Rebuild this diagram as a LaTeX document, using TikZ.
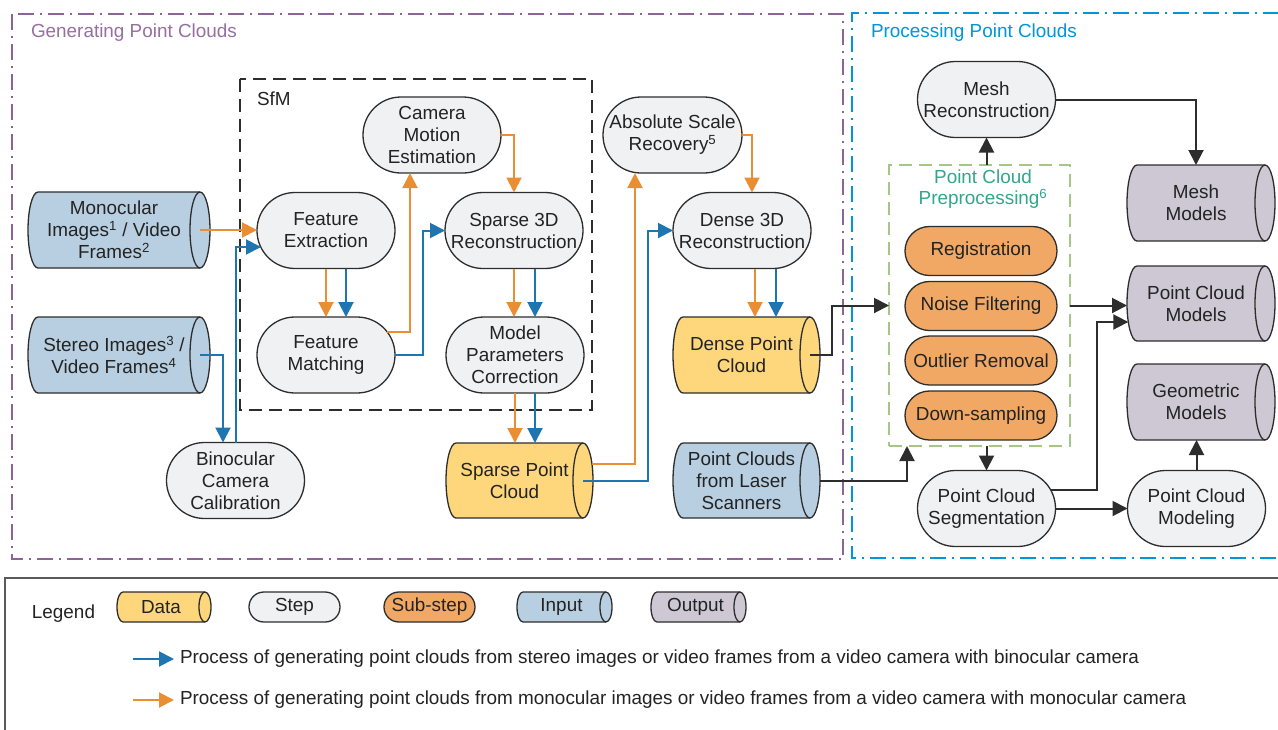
\documentclass[tikz,border=0pt]{standalone}
\usepackage{fontspec}
\setmainfont{Liberation Sans}
\usetikzlibrary{arrows.meta,calc,backgrounds}

\definecolor{bd}{RGB}{45,45,45}
\definecolor{txt}{RGB}{35,35,35}
\definecolor{stepfill}{RGB}{240,241,243}
\definecolor{subfill}{RGB}{240,168,100}
\definecolor{datafill}{RGB}{254,215,125}
\definecolor{infill}{RGB}{184,207,225}
\definecolor{outfill}{RGB}{205,200,212}
\definecolor{orng}{RGB}{234,142,52}
\definecolor{blu}{RGB}{31,117,176}
\definecolor{purp}{RGB}{140,100,150}
\definecolor{purptxt}{RGB}{150,110,160}
\definecolor{cyanb}{RGB}{0,150,215}
\definecolor{grn}{RGB}{165,198,135}
\definecolor{tealtxt}{RGB}{50,165,140}
\definecolor{lgd}{RGB}{90,90,90}

\newcommand\mainfs{\fontsize{18.9}{22}\selectfont}

% horizontal cylinder drawn round a text node: #1 node, #2 fill, #3 end radius, #4 half height
\newcommand\cylbody[4]{%
  \path[fill=#2, draw=bd, line width=1.3pt]
    ([xshift=#3]#1.north west) -- (#1.north east)
    arc[start angle=90, end angle=-90, x radius=#3, y radius=#4]
    -- ([xshift=#3]#1.south west)
    arc[start angle=270, end angle=90, x radius=#3, y radius=#4] -- cycle;
  \draw[bd, line width=1.3pt]
    (#1.north east) arc[start angle=90, end angle=270, x radius=#3, y radius=#4];
}

\begin{document}
\begin{tikzpicture}[x=1pt, y=-1pt, font=\mainfs, text=txt,
  every node/.style={inner sep=0pt, outer sep=0pt},
  stepnode/.style={rectangle, rounded corners=37.9pt, draw=bd, line width=1.3pt,
    fill=stepfill, minimum width=138pt, minimum height=76pt, align=center},
  subnode/.style={rectangle, rounded corners=24.4pt, draw=bd, line width=1.3pt,
    fill=subfill, minimum width=152pt, minimum height=49pt, align=center},
  cylnode/.style={rectangle, minimum height=76pt, align=center},
  oarr/.style={draw=orng, line width=2pt, -{Triangle[length=15pt,width=15pt]}},
  barr/.style={draw=blu, line width=2pt, -{Triangle[length=15pt,width=15pt]}},
  karr/.style={draw=bd, line width=2pt, -{Triangle[length=15pt,width=15pt]}},
  purpframe/.style={draw=purp, line width=2pt, dash pattern=on 16pt off 6pt on 2pt off 6pt},
  cyanframe/.style={draw=cyanb, line width=2pt, dash pattern=on 16pt off 6pt on 2pt off 6pt},
  sfmframe/.style={draw=bd, line width=2pt, dash pattern=on 13pt off 7pt},
  preframe/.style={draw=grn, line width=1.8pt, dash pattern=on 13pt off 7pt}]

\useasboundingbox (0,0) rectangle (1278,729);

% ---------- section titles ----------
\node[anchor=west, text=purptxt] (gentitle) at (31,33) {Generating Point Clouds};
\node[anchor=west, text=cyanb] (proctitle) at (871,33) {Processing Point Clouds};
\node[anchor=west] (sfmtitle) at (257,99) {SfM};

% ---------- generating point clouds ----------
\node[cylnode, minimum width=172pt] (mono) at (114,230)
  {Monocular\\Images\textsuperscript{1} / Video\\Frames\textsuperscript{2}};
\node[cylnode, minimum width=172pt] (stereo) at (114,355)
  {Stereo Images\textsuperscript{3} /\\Video Frames\textsuperscript{4}};
\node[stepnode] (bino) at (235.5,480.5) {Binocular\\Camera\\Calibration};

\node[stepnode] (fe)  at (326,230.5) {Feature\\Extraction};
\node[stepnode] (fm)  at (326,355)   {Feature\\Matching};
\node[stepnode] (cme) at (432,135)   {Camera\\Motion\\Estimation};
\node[stepnode] (s3d) at (514,230.5) {Sparse 3D\\Reconstruction};
\node[stepnode] (mpc) at (515,355)   {Model\\Parameters\\Correction};

\node[cylnode, minimum width=137pt, minimum height=75pt] (spc) at (514.5,480.5) {Sparse Point\\Cloud};
\node[stepnode, minimum width=139pt] (asr) at (672.5,135) {Absolute Scale\\Recovery\textsuperscript{5}};
\node[stepnode] (d3d) at (742,230.5) {Dense 3D\\Reconstruction};
\node[cylnode, minimum width=137pt] (dpc) at (741.5,355) {Dense Point\\Cloud};
\node[cylnode, minimum width=137pt, minimum height=75pt] (las) at (741.5,480.5) {Point Clouds\\from Laser\\Scanners};

% ---------- processing point clouds ----------
\node[stepnode] (mr) at (986.5,99.5) {Mesh\\Reconstruction};
\node[preframe, rectangle, minimum width=181pt, minimum height=281pt] (pre) at (979.5,305.5) {};
\node[text=tealtxt, align=center, font=\fontsize{18.9}{21}\selectfont] (pretitle) at (983,189)
  {Point Cloud\\Preprocessing\textsuperscript{6}};
\node[subnode] (reg)  at (981,251)   {Registration};
\node[subnode] (nf)   at (981,306)   {Noise Filtering};
\node[subnode] (outl) at (981,360.5) {Outlier Removal};
\node[subnode] (ds)   at (981,415.5) {Down-sampling};
\node[stepnode] (seg) at (986.5,508.5) {Point Cloud\\Segmentation};
\node[stepnode] (mod) at (1196.5,508.5) {Point Cloud\\Modeling};

\node[cylnode, minimum width=138pt] (mm)  at (1196,203)   {Mesh\\Models};
\node[cylnode, minimum width=138pt, minimum height=75pt] (pcm) at (1196,303.5) {Point Cloud\\Models};
\node[cylnode, minimum width=138pt] (geo) at (1196,402)   {Geometric\\Models};

% ---------- legend ----------
\node (legtitle) at (63.5,614) {Legend};
\node[cylnode, minimum width=88pt, minimum height=30pt] (lgdata) at (161,607) {Data};
\node[stepnode, minimum width=91pt, minimum height=30pt, rounded corners=14.9pt] (lgstep) at (294.5,607) {Step};
\node[subnode, minimum width=91pt, minimum height=30pt, rounded corners=14.9pt] (lgsub) at (429.5,607) {Sub-step};
\node[cylnode, minimum width=89pt, minimum height=30pt] (lgin) at (561.5,607) {Input};
\node[cylnode, minimum width=89pt, minimum height=30pt] (lgout) at (695.5,607) {Output};

\node[anchor=west] (lgtxtb) at (180,659)
  {Process of generating point clouds from stereo images or video frames from a video camera with binocular camera};
\node[anchor=west] (lgtxto) at (180,700)
  {Process of generating point clouds from monocular images or video frames from a video camera with monocular camera};
\draw[barr] ($(lgtxtb.west)+(-47,0)$) -- ($(lgtxtb.west)+(-6,0)$);
\draw[oarr] ($(lgtxto.west)+(-47,0)$) -- ($(lgtxto.west)+(-6,0)$);

% ---------- connectors: generating ----------
\draw[oarr] (mono.east) -- (mono.east -| fe.west);
\draw[barr] (stereo.east) -| ($(bino.north)+(-12.5,0)$);
\draw[barr] (bino.north) |- ($(fe.west)+(4,16.5)$);
\draw[oarr] (fe.south) -- (fm.north);
\draw[barr] ([xshift=20pt]fe.south) -- ([xshift=20pt]fm.north);
\draw[oarr] ($(fm.east)+(-8,-23)$) -| ($(cme.south)+(-22,0)$);
\draw[barr] (fm.east) -- ++(28,0) |- (s3d.west);
\draw[oarr] (cme.east) -| (s3d.north);
\draw[oarr] (s3d.south) -- (s3d.south |- mpc.north);
\draw[barr] ([xshift=21pt]s3d.south) -- ([xshift=21pt]s3d.south |- mpc.north);
\draw[oarr] (mpc.south) -- (mpc.south |- spc.north);
\draw[barr] ([xshift=20pt]mpc.south) -- ([xshift=20pt]mpc.south |- spc.north);
\draw[oarr] ($(spc.east)+(9,-17)$) -| ($(asr.south)+(-37.5,0)$);
\draw[barr] (spc.east) -- ++(65,0) |- (d3d.west);
\draw[oarr] (asr.east) -| ([xshift=10pt]d3d.north);
\draw[oarr] ([xshift=13pt]d3d.south) -- ([xshift=13pt]d3d.south |- dpc.north);
\draw[barr] ([xshift=34pt]d3d.south) -- ([xshift=34pt]d3d.south |- dpc.north);

% ---------- connectors: processing ----------
\draw[karr] (dpc.east) -- ++(22,0) |- (pre.west);
\draw[karr] ([xshift=10pt]las.east) -| ([xshift=-72.5pt]pre.south);
\draw[karr] (mr.south |- pre.north) -- (mr.south);
\draw[karr] (mr.east) -| (mm.north);
\draw[karr] (seg.north |- pre.south) -- (seg.north);
\draw[karr] (pre.east) -- (pre.east -| pcm.west);
\draw[karr] ($(seg.east)+(-5,-18.5)$) -- ++(46,0) |- ($(pcm.west)+(1.3,18.5)$);
\draw[karr] (seg.east) -- (mod.west);
\draw[karr] (mod.north) -- (mod.north |- geo.south);

% ---------- frames and cylinder bodies ----------
\begin{scope}[on background layer]
  \draw[purpframe] (12,14) rectangle (843,559);
  \draw[cyanframe] (1279,13) -- (852,13) -- (852,558) -- (1279,558);
  \draw[sfmframe] (240,79) rectangle (592,410);
  \draw[draw=lgd, line width=2pt] (1279,578) -- (5,578) -- (5,730);
  \cylbody{mono}{infill}{10pt}{38pt}
  \cylbody{stereo}{infill}{10pt}{38pt}
  \cylbody{spc}{datafill}{10pt}{37.5pt}
  \cylbody{dpc}{datafill}{10pt}{38pt}
  \cylbody{las}{infill}{10pt}{37.5pt}
  \cylbody{mm}{outfill}{10pt}{38pt}
  \cylbody{pcm}{outfill}{10pt}{37.5pt}
  \cylbody{geo}{outfill}{10pt}{38pt}
  \cylbody{lgdata}{datafill}{6pt}{15pt}
  \cylbody{lgin}{infill}{6pt}{15pt}
  \cylbody{lgout}{outfill}{6pt}{15pt}
\end{scope}
\end{tikzpicture}
\end{document}
